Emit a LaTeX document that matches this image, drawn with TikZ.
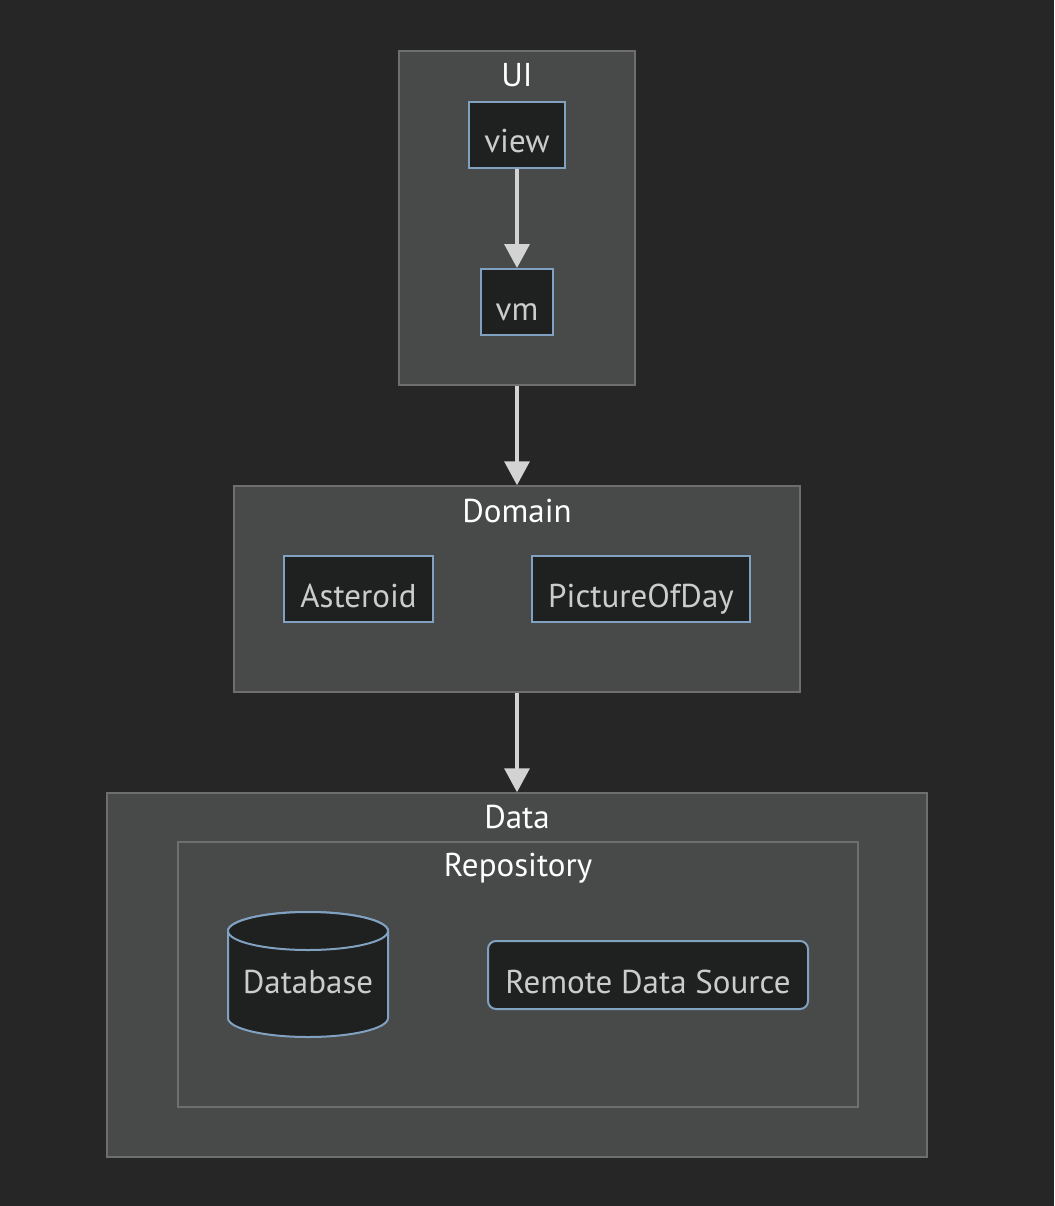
\documentclass[tikz,border=0pt]{standalone}
\usepackage{fontspec}
\setmainfont{PT Sans}
\usetikzlibrary{arrows.meta}
\definecolor{bg}{HTML}{262626}
\definecolor{clfill}{HTML}{484949}
\definecolor{clline}{HTML}{6E6E6E}
\definecolor{ndfill}{HTML}{1F2020}
\definecolor{ndline}{HTML}{81A1C1}
\definecolor{edge}{HTML}{D3D3D3}
\definecolor{ndtext}{HTML}{CCCCCC}
\tikzset{
  cluster/.style={draw=clline, fill=clfill, line width=1.5pt, inner sep=0pt},
  ctitle/.style={text=white, font=\fontsize{33}{38}\selectfont, anchor=base, inner sep=0pt},
  nbox/.style={draw=ndline, fill=ndfill, line width=2pt, text=ndtext, font=\fontsize{33}{38}\selectfont, inner sep=0pt, text height=36pt, text depth=0pt},
  conn/.style={draw=edge, line width=3.5pt, -{Triangle[width=25pt,length=24pt]}},
}
\begin{document}
\begin{tikzpicture}[x=1pt,y=-1pt]
\fill[bg] (0,0) rectangle (1054,1206);
\useasboundingbox (0,0) rectangle (1054,1206);
% clusters
\node[cluster, minimum width=236pt, minimum height=334pt] (ui) at (517,218) {};
\node[ctitle] (uit) at (517,87) {UI};
\node[cluster, minimum width=566pt, minimum height=206pt] (dom) at (517,589) {};
\node[ctitle] (domt) at (517,522) {Domain};
\node[cluster, minimum width=820pt, minimum height=364pt] (data) at (517,975) {};
\node[ctitle] (datat) at (517,828) {Data};
\node[cluster, minimum width=680pt, minimum height=265pt] (repo) at (518,974.5) {};
\node[ctitle] (repot) at (518,876) {Repository};
% nodes
\node[nbox, minimum width=96pt, minimum height=66pt] (view) at (517,135) {view};
\node[nbox, minimum width=72pt, minimum height=66pt] (vm) at (517,302) {vm};
\node[nbox, minimum width=149pt, minimum height=66pt] (ast) at (358.5,589) {Asteroid};
\node[nbox, minimum width=218pt, minimum height=66pt] (pod) at (641,589) {PictureOfDay};
\node[nbox, rounded corners=8pt, minimum width=320pt, minimum height=68pt] (rds) at (648,975) {Remote Data Source};
% database cylinder
\filldraw[draw=ndline, fill=ndfill, line width=2pt] (228,931) -- (228,1018) arc[start angle=180, end angle=0, x radius=80, y radius=19] -- (388,931) arc[start angle=0, end angle=-180, x radius=80, y radius=19] -- cycle;
\filldraw[draw=ndline, fill=ndfill, line width=2pt] (308,931) ellipse[x radius=80, y radius=19];
\node[text=ndtext, font=\fontsize{33}{38}\selectfont, inner sep=0pt, anchor=base] (db) at (308,993) {Database};
% connectors
\draw[conn] (view) -- (vm);
\draw[conn] (ui) -- (dom);
\draw[conn] (dom) -- (data);
\end{tikzpicture}
\end{document}
